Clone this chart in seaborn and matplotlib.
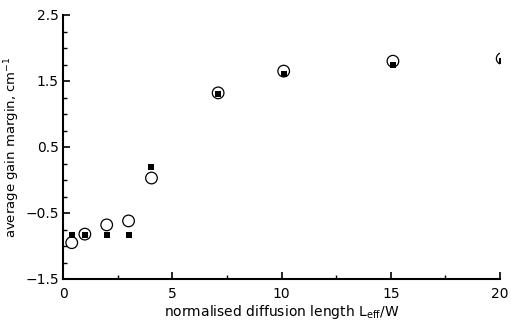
import matplotlib
matplotlib.use("Agg")
import matplotlib.pyplot as plt
import seaborn as sns
import pandas as pd
from matplotlib.ticker import MultipleLocator

# Data
circle_x = [0.4, 1.0, 2.0, 3.0, 4.05, 7.1, 10.1, 15.1, 20.1]
circle_y = [-0.95, -0.82, -0.68, -0.62, 0.03, 1.32, 1.65, 1.80, 1.84]
square_x = [0.4, 1.0, 2.0, 3.0, 4.05, 7.1, 10.1, 15.1, 20.1]
square_y = [-0.84, -0.83, -0.83, -0.83, 0.20, 1.30, 1.61, 1.75, 1.80]

x_ticks = [0, 5, 10, 15, 20]
y_ticks = [-1.5, -0.5, 0.5, 1.5, 2.5]
y_tick_labels = ["\u22121.5", "\u22120.5", "0.5", "1.5", "2.5"]

df_sq = pd.DataFrame({"x": square_x, "y": square_y})
df_ci = pd.DataFrame({"x": circle_x, "y": circle_y})

sns.set_style("ticks")
plt.rcParams["font.family"] = ["DejaVu Sans"]
plt.rcParams["text.color"] = "black"
plt.rcParams["axes.labelcolor"] = "black"

fig = plt.figure(figsize=(5.11, 3.28), dpi=100)
ax = fig.add_axes([63 / 511, 1 - 279 / 328, (500 - 63) / 511, (279 - 15) / 328])

sns.scatterplot(data=df_sq, x="x", y="y", marker="s", s=14, color="black",
                edgecolor="black", linewidth=0, ax=ax, zorder=3)
sns.scatterplot(data=df_ci, x="x", y="y", marker="o", s=70, facecolor="none",
                edgecolor="black", linewidth=0.9, ax=ax, zorder=4)

ax.set_xlim(0, 20)
ax.set_ylim(-1.5, 2.5)
ax.set_xticks(x_ticks)
ax.set_yticks(y_ticks)
ax.set_yticklabels(y_tick_labels)
ax.xaxis.set_minor_locator(MultipleLocator(2.5))
ax.yaxis.set_minor_locator(MultipleLocator(0.25))
ax.tick_params(which="both", direction="in", colors="black", labelsize=10)
ax.tick_params(which="major", length=5, width=1.2)
ax.tick_params(which="minor", length=3, width=1.0)
ax.tick_params(axis="x", pad=6)
ax.tick_params(axis="y", pad=3)

for s in ["top", "right"]:
    ax.spines[s].set_visible(False)
for s in ["left", "bottom"]:
    ax.spines[s].set_linewidth(1.5)
    ax.spines[s].set_color("black")

ax.set_xlabel("normalised diffusion length L$_{\\mathrm{eff}}$/W", fontsize=10, labelpad=1)
ax.set_ylabel("average gain margin, cm$^{-1}$", fontsize=9.5, labelpad=2)

fig.savefig("out.png", dpi=100)
